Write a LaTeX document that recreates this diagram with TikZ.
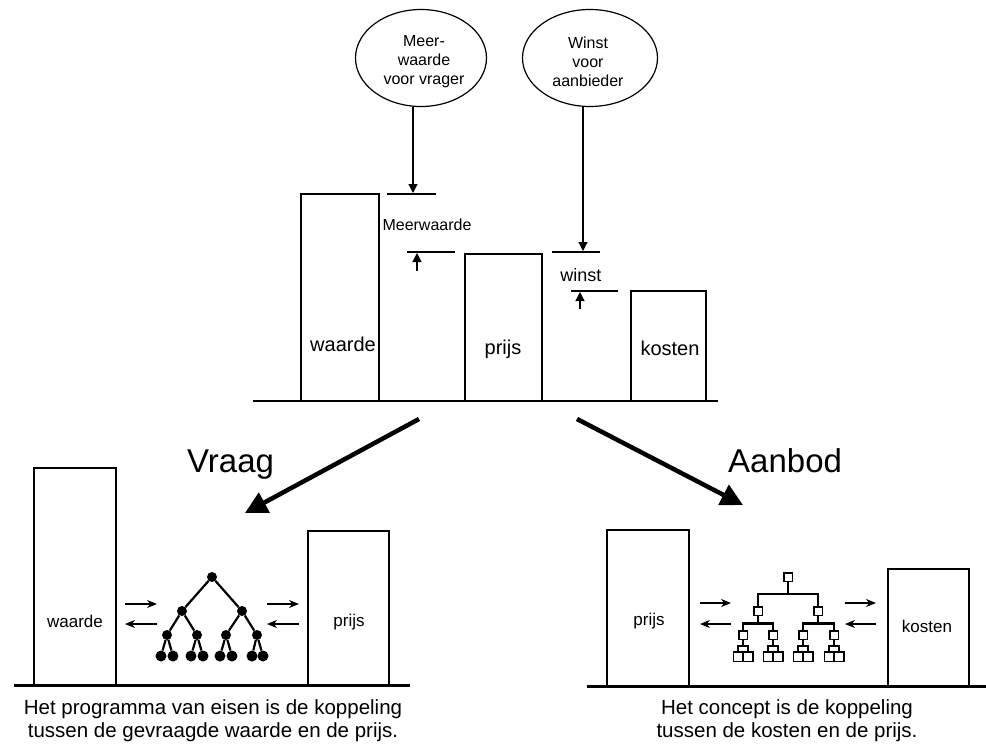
\documentclass[tikz,border=0pt]{standalone}
\usepackage{fontspec}
\setmainfont{Liberation Sans}
\usetikzlibrary{arrows.meta,shapes.geometric}

\tikzset{
  fine/.style={line width=1.2pt},
  bubble/.style={draw, ellipse, fine, inner sep=0pt},
  bubbletext/.style={align=center, font=\fontsize{16}{19}\selectfont, inner sep=0pt},
  colbox/.style={draw, rectangle, line width=1.4pt, inner sep=0pt},
  lowbox/.style={draw, rectangle, line width=2pt, inner sep=0pt},
  ground/.style={line width=3pt},
  downmark/.style={fine, -{Triangle[length=9pt,width=9pt]}},
  bigarrow/.style={line width=4.5pt, -{Triangle[length=22pt,width=22pt]}},
  flow/.style={line width=1.3pt, -{Stealth[length=10pt,width=8pt]}},
  dot/.style={circle, fill=black, inner sep=0pt, minimum size=10pt},
  sq/.style={draw, rectangle, line width=1.5pt, fill=white, inner sep=0pt, minimum size=8.5pt},
  leaf/.style={sq, minimum size=9.5pt},
  twig/.style={line width=2.2pt},
  lbl/.style={inner sep=0pt, anchor=base},
}

\begin{document}
\begin{tikzpicture}[x=1pt, y=-1pt]
\useasboundingbox (0,0) rectangle (986,747);

% ---------- upper chart: value, price, cost ----------
\node[bubble, minimum width=131pt, minimum height=97pt] (e1) at (421,58) {};
\node[bubbletext] (t1) at (424,62) {Meer-\\waarde\\voor vrager};
\node[bubble, minimum width=135pt, minimum height=97pt] (e2) at (590,58) {};
\node[bubbletext] (t2) at (588,62) {Winst\\voor\\aanbieder};

\node[colbox, minimum width=78pt, minimum height=207pt] (wtop) at (340,297.5) {};
\node[colbox, minimum width=77pt, minimum height=147pt] (ptop) at (503.5,327.5) {};
\node[colbox, minimum width=75pt, minimum height=110pt] (ktop) at (668.5,346) {};
\draw[fine] (253,401) -- (718,401);

\node[lbl, font=\fontsize{20}{24}\selectfont] (wtxt) at (343,351) {waarde};
\node[lbl, font=\fontsize{20}{24}\selectfont] (ptxt) at (503,354) {prijs};
\node[lbl, font=\fontsize{20}{24}\selectfont] (ktxt) at (670,355) {kosten};

% dimension marks for the surplus and the profit
\coordinate (m1a) at (387,194); \coordinate (m1b) at (436,194);
\coordinate (m2a) at (407,252); \coordinate (m2b) at (455,252);
\coordinate (m3a) at (552,252); \coordinate (m3b) at (600,252);
\coordinate (m4a) at (571,291); \coordinate (m4b) at (618,291);
\draw[fine] (m1a) -- (m1b);
\draw[fine] (m2a) -- (m2b);
\draw[fine] (m3a) -- (m3b);
\draw[fine] (m4a) -- (m4b);

\coordinate (d1) at (413,193);
\coordinate (d2) at (583,251);
\draw[downmark] (e1.south -| d1) -- (d1);
\draw[downmark] (e2.south -| d2) -- (d2);

\coordinate (u1s) at (417,271); \coordinate (u1e) at (417,253);
\coordinate (u2s) at (580,309); \coordinate (u2e) at (580,292);
\draw[downmark] (u1s) -- (u1e);
\draw[downmark] (u2s) -- (u2e);

\node[lbl, font=\fontsize{16}{19}\selectfont] (mw) at (427,230) {Meerwaarde};
\node[lbl, font=\fontsize{18}{21}\selectfont] (ws) at (581,281) {winst};

% ---------- the two branches ----------
\coordinate (va) at (419,419); \coordinate (vb) at (245,513);
\coordinate (aa) at (577,419); \coordinate (ab) at (743,505);
\draw[bigarrow] (va) -- (vb);
\draw[bigarrow] (aa) -- (ab);
\node[lbl, anchor=base west, font=\fontsize{33}{38}\selectfont] (vraag) at (187,472) {Vraag};
\node[lbl, anchor=base west, font=\fontsize{33}{38}\selectfont] (aanbod) at (728,472) {Aanbod};

% ---------- lower left: demand ----------
\node[lowbox, minimum width=82pt, minimum height=217pt] (wlow) at (75,576.5) {};
\node[lowbox, minimum width=81pt, minimum height=154pt] (plow) at (348.5,608) {};
\draw[ground] (14,685) -- (410,685);
\node[lbl, font=\fontsize{17}{20}\selectfont] (wltxt) at (75,627) {waarde};
\node[lbl, font=\fontsize{17}{20}\selectfont] (pltxt) at (349,626) {prijs};

\coordinate (l1a) at (125,604); \coordinate (l1b) at (157,604);
\coordinate (l2a) at (157,624); \coordinate (l2b) at (125,624);
\coordinate (l3a) at (267,604); \coordinate (l3b) at (299,604);
\coordinate (l4a) at (299,624); \coordinate (l4b) at (267,624);
\draw[flow] (l1a) -- (l1b);
\draw[flow] (l2a) -- (l2b);
\draw[flow] (l3a) -- (l3b);
\draw[flow] (l4a) -- (l4b);

% requirements tree
\foreach \n/\x/\y in {r/212/577, b1/182/611, b2/242/611,
    c1/167/635, c2/197/635, c3/226/635, c4/257/635}
  \node[dot] (\n) at (\x,\y) {};
\foreach \n/\x in {f1/161, f2/173, f3/191, f4/203, f5/220, f6/232, f7/252, f8/263}
  \node[dot, minimum size=11pt] (\n) at (\x,656) {};
\foreach \p/\c in {r/b1, r/b2, b1/c1, b1/c2, b2/c3, b2/c4,
    c1/f1, c1/f2, c2/f3, c2/f4, c3/f5, c3/f6, c4/f7, c4/f8}
  \draw[twig] (\p) -- (\c);

\node[lbl, font=\fontsize{20.5}{23}\selectfont] (h1) at (213,714) {Het programma van eisen is de koppeling};
\node[lbl, font=\fontsize{20.5}{23}\selectfont] (h2) at (213,737) {tussen de gevraagde waarde en de prijs.};

% ---------- lower right: supply ----------
\node[lowbox, minimum width=82pt, minimum height=156pt] (prr) at (648,608) {};
\node[lowbox, minimum width=81pt, minimum height=117pt] (krr) at (928.5,627.5) {};
\draw[ground] (587,686) -- (986,686);
\node[lbl, font=\fontsize{17}{20}\selectfont] (prtxt) at (649,625) {prijs};
\node[lbl, font=\fontsize{17}{20}\selectfont] (krtxt) at (927,632) {kosten};

\coordinate (k1a) at (700,603); \coordinate (k1b) at (731,603);
\coordinate (k2a) at (731,624); \coordinate (k2b) at (700,624);
\coordinate (k3a) at (845,603); \coordinate (k3b) at (876,603);
\coordinate (k4a) at (876,624); \coordinate (k4b) at (845,624);
\draw[flow] (k1a) -- (k1b);
\draw[flow] (k2a) -- (k2b);
\draw[flow] (k3a) -- (k3b);
\draw[flow] (k4a) -- (k4b);

% concept tree (orthogonal)
\foreach \n/\x/\y in {R/788/577, B1/758/611, B2/818/611,
    C1/743/635, C2/773/635, C3/803/635, C4/834/635}
  \node[sq] (\n) at (\x,\y) {};
\foreach \n/\x in {F1/738, F2/748, F3/768, F4/778, F5/798, F6/808, F7/829, F8/839}
  \node[leaf] (\n) at (\x,656.5) {};
\foreach \c in {B1,B2}
  \draw[twig] (R.south) -- ++(0,12) -| (\c.north);
\foreach \p/\c in {B1/C1, B1/C2, B2/C3, B2/C4}
  \draw[twig] (\p.south) -- ++(0,7.5) -| (\c.north);
\foreach \p/\c in {C1/F1, C1/F2, C2/F3, C2/F4, C3/F5, C3/F6, C4/F7, C4/F8}
  \draw[twig] (\p.south) -- ++(0,6) -| (\c.north);

\node[lbl, font=\fontsize{20.5}{23}\selectfont] (g1) at (787,714) {Het concept is de koppeling};
\node[lbl, font=\fontsize{20.5}{23}\selectfont] (g2) at (787,737) {tussen de kosten en de prijs.};
\end{tikzpicture}
\end{document}
